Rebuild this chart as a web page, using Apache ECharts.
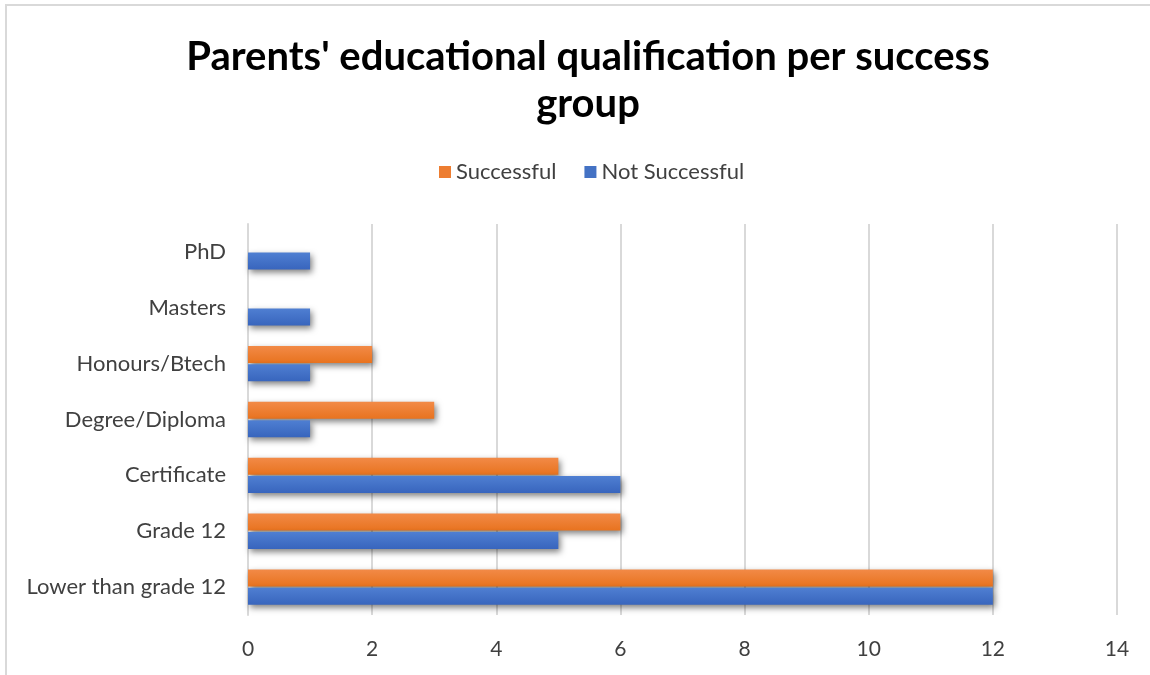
<!DOCTYPE html>
<html>
<head>
<meta charset="utf-8">
<script src="https://cdn.jsdelivr.net/npm/echarts@6/dist/echarts.min.js"></script>
<style>
  html, body { margin: 0; padding: 0; background: #fff; }
  #chart { width: 1150px; height: 675px; }
</style>
</head>
<body>
<div id="chart"></div>
<script>
// Qualification levels, bottom to top on the category axis
const categories = ['Lower than grade 12', 'Grade 12', 'Certificate', 'Degree/Diploma', 'Honours/Btech', 'Masters', 'PhD'];
const successful = [12, 6, 5, 3, 2, null, null];
const notSuccessful = [12, 5, 6, 1, 1, 1, 1];
const xTicks = { min: 0, max: 14, interval: 2 };

const FONT = 'Lato, "Open Sans", sans-serif';

function barFill(top, bottom) {
  return new echarts.graphic.LinearGradient(0, 0, 0, 1, [
    { offset: 0, color: top },
    { offset: 1, color: bottom }
  ]);
}

const chart = echarts.init(document.getElementById('chart'), null, { renderer: 'canvas' });
chart.setOption({
  backgroundColor: '#ffffff',
  animation: false,
  graphic: [{
    type: 'rect',
    shape: { x: 6, y: 5, width: 1160, height: 690 },
    style: { fill: 'none', stroke: '#d9d9d9', lineWidth: 2 },
    silent: true
  }],
  title: {
    text: "Parents' educational qualification per success\ngroup",
    left: 583,
    textAlign: 'center',
    top: 29,
    textStyle: {
      fontFamily: FONT,
      fontWeight: 'bold',
      fontSize: 40,
      lineHeight: 47,
      color: '#000000'
    }
  },
  legend: {
    top: 156,
    left: 434,
    itemWidth: 12,
    itemHeight: 12,
    itemGap: 28,
    icon: 'rect',
    textStyle: { fontFamily: FONT, fontSize: 22, color: '#404040' },
    data: [
      { name: 'Successful', itemStyle: { color: '#ed7d31', shadowBlur: 0, shadowOffsetX: 0, shadowOffsetY: 0 } },
      { name: 'Not Successful', itemStyle: { color: '#4472c4', shadowBlur: 0, shadowOffsetX: 0, shadowOffsetY: 0 } }
    ]
  },
  grid: { left: 248, right: 33, top: 224, bottom: 60 },
  xAxis: {
    type: 'value',
    min: xTicks.min,
    max: xTicks.max,
    interval: xTicks.interval,
    axisLine: { show: false },
    axisTick: { show: false },
    splitLine: { lineStyle: { color: '#d9d9d9', width: 2 } },
    axisLabel: { fontFamily: FONT, fontSize: 21, color: '#404040', margin: 24 }
  },
  yAxis: {
    type: 'category',
    data: categories,
    axisLine: { lineStyle: { color: '#d9d9d9', width: 2 } },
    axisTick: { show: false },
    axisLabel: { fontFamily: FONT, fontSize: 22, color: '#404040', margin: 22 }
  },
  series: [
    {
      name: 'Successful',
      type: 'bar',
      data: successful,
      barWidth: 17,
      barGap: '8%',
      itemStyle: {
        color: barFill('#f28a47', '#e8731f'),
        shadowColor: 'rgba(0,0,0,0.5)',
        shadowBlur: 6,
        shadowOffsetX: 2,
        shadowOffsetY: 3
      }
    },
    {
      name: 'Not Successful',
      type: 'bar',
      data: notSuccessful,
      barWidth: 17,
      barGap: '8%',
      itemStyle: {
        color: barFill('#4f7fd2', '#3865bd'),
        shadowColor: 'rgba(0,0,0,0.5)',
        shadowBlur: 6,
        shadowOffsetX: 2,
        shadowOffsetY: 3
      }
    }
  ]
});
</script>
</body>
</html>
